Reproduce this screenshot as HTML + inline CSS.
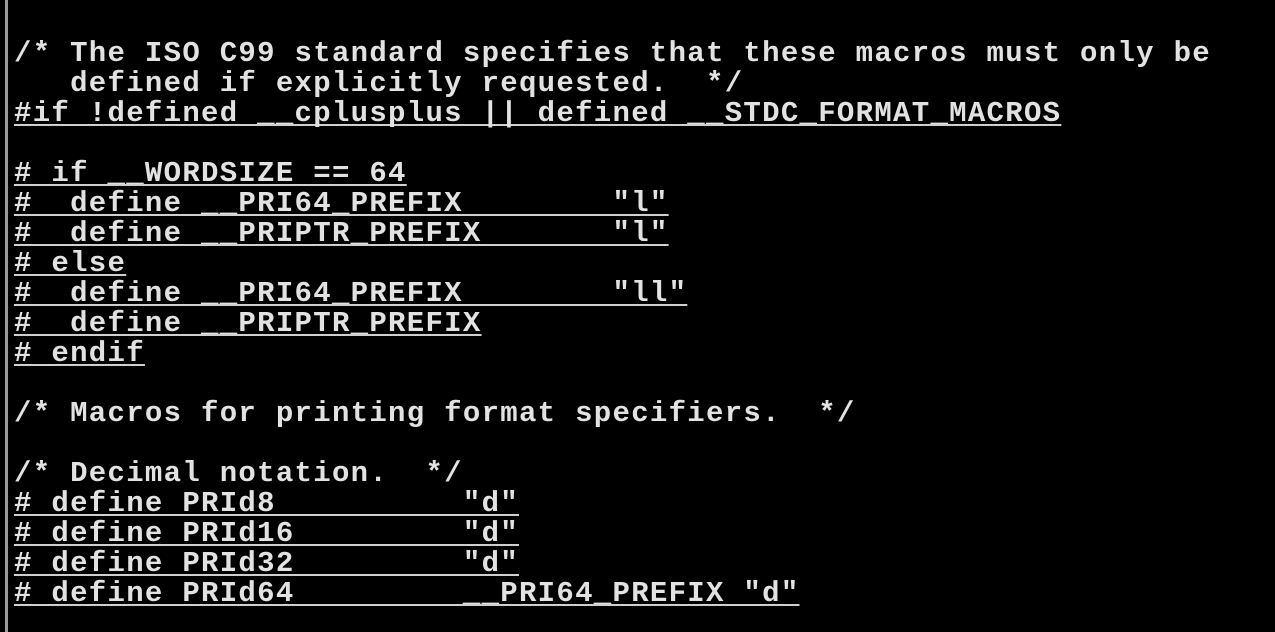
<!DOCTYPE html>
<html><head><meta charset="utf-8"><style>
html,body{margin:0;padding:0;background:#000;width:1275px;height:632px;overflow:hidden}
.bar{position:absolute;left:5px;top:0;width:3px;height:632px;background:#9a9a9a}
.c{position:absolute;left:14px;top:39px;font-family:"Liberation Mono",monospace;font-size:29px;letter-spacing:1.3px;color:#e2e2e2;font-weight:bold}
.c div{height:30px;line-height:30px;white-space:pre}
.u{text-decoration:underline;text-decoration-thickness:2px;text-underline-offset:3px;text-decoration-skip-ink:none;text-decoration-color:#cfcfcf}
</style></head><body>
<div class="bar"></div>
<div class="c"><div>/* The ISO C99 standard specifies that these macros must only be</div><div>   defined if explicitly requested.  */</div><div><span class="u">#if !defined __cplusplus || defined __STDC_FORMAT_MACROS</span></div><div> </div><div><span class="u"># if __WORDSIZE == 64</span></div><div><span class="u">#  define __PRI64_PREFIX        "l"</span></div><div><span class="u">#  define __PRIPTR_PREFIX       "l"</span></div><div><span class="u"># else</span></div><div><span class="u">#  define __PRI64_PREFIX        "ll"</span></div><div><span class="u">#  define __PRIPTR_PREFIX</span></div><div><span class="u"># endif</span></div><div> </div><div>/* Macros for printing format specifiers.  */</div><div> </div><div>/* Decimal notation.  */</div><div><span class="u"># define PRId8          "d"</span></div><div><span class="u"># define PRId16         "d"</span></div><div><span class="u"># define PRId32         "d"</span></div><div><span class="u"># define PRId64         __PRI64_PREFIX "d"</span></div></div>
</body></html>
